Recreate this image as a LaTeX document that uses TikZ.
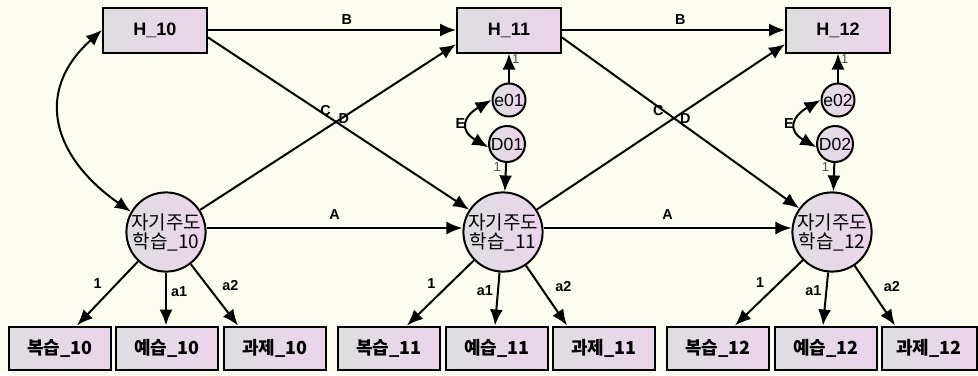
\documentclass[tikz,border=0pt]{standalone}
\usepackage{fontspec}
\setmainfont{Liberation Sans}
\newfontfamily\krfont{Noto Sans CJK KR}
\usetikzlibrary{arrows.meta, positioning, calc}
\definecolor{PaperCream}{RGB}{252, 253, 240}
\definecolor{BoxGray}{RGB}{222, 222, 224}
\definecolor{BoxLilac}{RGB}{236, 212, 236}
\definecolor{FixGray}{RGB}{80, 80, 80}
\tikzset{
  obsbox/.style={rectangle, draw=black, line width=1pt,
                 left color=BoxGray, right color=BoxLilac,
                 minimum width=51pt, minimum height=21.5pt, inner sep=1pt,
                 font=\krfont\fontsize{9}{9}\bfseries\selectfont},
  hbox/.style={obsbox, minimum width=52pt, minimum height=22.5pt,
               font=\fontsize{9}{9}\bfseries\selectfont},
  latent/.style={circle, draw=black, line width=1pt,
                 left color=BoxGray, right color=BoxLilac,
                 minimum size=39.5pt, inner sep=0pt, align=center,
                 font=\krfont\fontsize{9.5}{9.5}\selectfont},
  errc/.style={circle, draw=black, line width=1pt,
               left color=BoxGray, right color=BoxLilac,
               minimum size=#1, inner sep=0pt,
               font=\fontsize{8.8}{8.8}\selectfont},
  arr/.style={-{Latex[length=8pt, width=6.5pt]}, line width=1pt},
  cov/.style={{Latex[length=8pt, width=6.5pt]}-{Latex[length=8pt, width=6.5pt]}, line width=1pt},
  lbl/.style={font=\fontsize{7.2}{7.2}\bfseries\selectfont, inner sep=1pt},
  fixlbl/.style={font=\fontsize{6.5}{6.5}\selectfont, text=FixGray, inner sep=1pt},
}

\begin{document}
\begin{tikzpicture}[x=0.5pt, y=-0.5pt]
      \fill[PaperCream] (0,0) rectangle (978,375);
      \useasboundingbox (0,0) rectangle (978,375);

      % outcome boxes
      \node[hbox] (h10) at (155,30) {H\_10};
      \node[hbox] (h11) at (509,30) {H\_11};
      \node[hbox] (h12) at (838,30) {H\_12};

      % latent factors
      \node[latent] (sdl10) at (166,232) {자기주도\\학습\_10};
      \node[latent] (sdl11) at (503,232) {자기주도\\학습\_11};
      \node[latent] (sdl12) at (832,232) {자기주도\\학습\_12};

      % residuals
      \node[errc=16.5pt] (e01) at (509,100) {e01};
      \node[errc=18pt]   (d01) at (507,144) {D01};
      \node[errc=16.5pt] (e02) at (838,100) {e02};
      \node[errc=18pt]   (d02) at (835,144) {D02};

      % indicators
      \node[obsbox] (rev10)  at (60,348)  {복습\_10};
      \node[obsbox] (pre10)  at (167,348) {예습\_10};
      \node[obsbox] (task10) at (275,348) {과제\_10};
      \node[obsbox] (rev11)  at (389,348) {복습\_11};
      \node[obsbox] (pre11)  at (497,348) {예습\_11};
      \node[obsbox] (task11) at (604,348) {과제\_11};
      \node[obsbox] (rev12)  at (718,348) {복습\_12};
      \node[obsbox] (pre12)  at (826,348) {예습\_12};
      \node[obsbox, minimum width=47.5pt] (task12) at (929,348) {과제\_12};

      % cross-lagged paths
      \draw[arr] (h10) -- node[lbl, pos=0.56, above=1pt] (labB1) {B} (h11);
      \draw[arr] (h11) -- node[lbl, pos=0.53, above=1pt] (labB2) {B} (h12);
      \draw[arr] ([yshift=2pt]sdl10.east) -- node[lbl, above=3pt] (labA1) {A} ([yshift=2pt]sdl11.west);
      \draw[arr] ([yshift=2pt]sdl11.east) -- node[lbl, above=3pt] (labA2) {A} ([yshift=2pt]sdl12.west);
      \draw[arr] (h10.-8) -- node[lbl, pos=0.52, above] (labD1) {D} (sdl11);
      \draw[arr] (h11.-8) -- node[lbl, pos=0.52, above] (labD2) {D} (sdl12);
      \draw[arr] (sdl10) -- node[lbl, pos=0.49, above=5pt] (labC1) {C} (h11.195);
      \draw[arr] (sdl11) -- node[lbl, pos=0.49, above=5pt] (labC2) {C} (h12.195);

      % residual paths
      \draw[arr] (e01) -- node[fixlbl, pos=0.8, right] (lfe1) {1} (h11);
      \draw[arr] (d01) -- node[fixlbl, pos=0.15, left=1pt] (lfd1) {1} (sdl11);
      \draw[arr] (e02) -- node[fixlbl, pos=0.8, right] (lfe2) {1} (h12);
      \draw[arr] (d02) -- node[fixlbl, pos=0.15, left=1pt] (lfd2) {1} (sdl12);
      \draw[cov] (e01.west) to[out=210, in=150, looseness=1.8]
           node[lbl, left=0pt] (labE1) {E} (d01.190);
      \draw[cov] (e02.west) to[out=210, in=150, looseness=1.8]
           node[lbl, left=0pt] (labE2) {E} (d02.190);
      \draw[cov] (h10.west) to[out=222, in=145, looseness=1.3] (sdl10.150);

      % loadings
      \draw[arr] (sdl10) -- node[lbl, pos=0.35, left=6pt] (l101) {1} ([xshift=8.5pt]rev10.north);
      \draw[arr] (sdl10) -- node[lbl, pos=0.35, right=1pt] (l1a1) {a1} ([xshift=-0.5pt]pre10.north);
      \draw[arr] (sdl10) -- node[lbl, pos=0.35, right=6pt] (l1a2) {a2} ([xshift=-18.5pt]task10.north);
      \draw[arr] (sdl11) -- node[lbl, pos=0.35, left=6pt] (l111) {1} ([xshift=9pt]rev11.north);
      \draw[arr] (sdl11) -- node[lbl, pos=0.35, left=1pt] (l2a1) {a1} ([xshift=-1pt]pre11.north);
      \draw[arr] (sdl11) -- node[lbl, pos=0.35, right=6pt] (l2a2) {a2} ([xshift=-18.5pt]task11.north);
      \draw[arr] (sdl12) -- node[lbl, pos=0.35, left=6pt] (l121) {1} ([xshift=8.5pt]rev12.north);
      \draw[arr] (sdl12) -- node[lbl, pos=0.35, left=1pt] (l3a1) {a1} ([xshift=-1.5pt]pre12.north);
      \draw[arr] (sdl12) -- node[lbl, pos=0.35, right=6pt] (l3a2) {a2} ([xshift=-17pt]task12.north);
\end{tikzpicture}
\end{document}
